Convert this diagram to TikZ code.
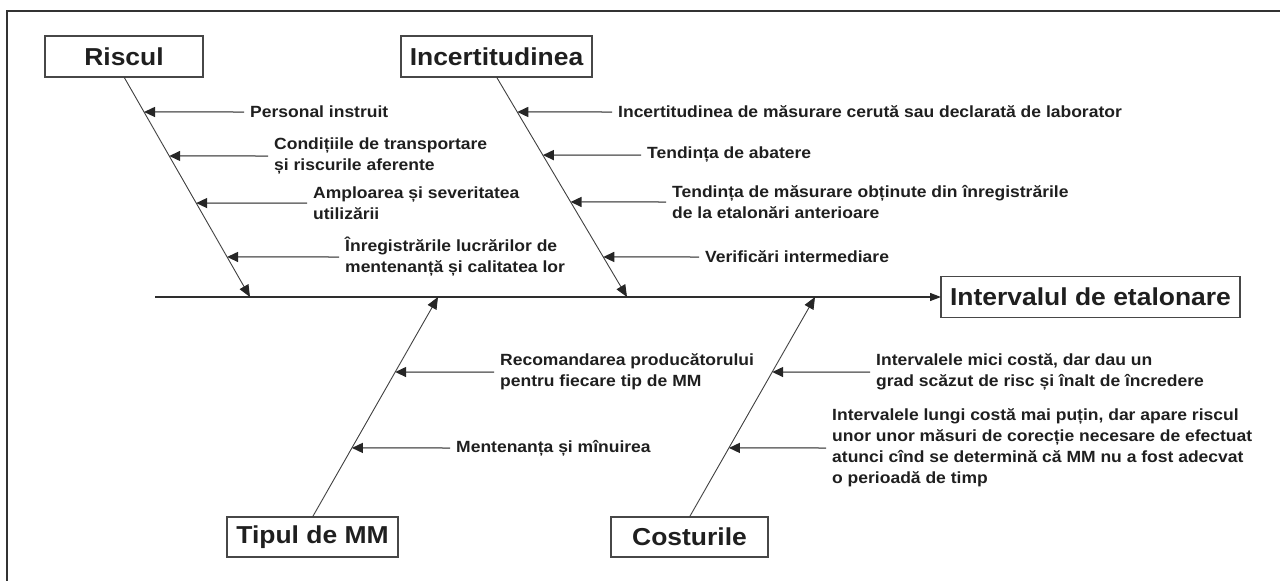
\documentclass[tikz,border=0pt]{standalone}
\usepackage{fontspec}
\setmainfont{Liberation Sans}[FakeStretch=1.08]
\usetikzlibrary{arrows.meta,calc}
\begin{document}
\begin{tikzpicture}[x=1pt,y=-1pt,
  frame/.style={draw=black!80, line width=1.3pt},
  box/.style={draw=black!72, line width=1.1pt, inner sep=0pt, outer sep=0pt,
    font=\fontsize{24.5}{28}\selectfont\bfseries, text=black!88},
  lab/.style={anchor=west, inner xsep=6pt, inner ysep=0pt, align=left,
    font=\fontsize{16.2}{21}\selectfont\bfseries, text=black!88},
  spine/.style={draw=black!82, line width=1.2pt, -{Triangle[length=11pt,width=8pt,color=black!85]}},
  bone/.style={draw=black!75, line width=0.9pt, -{Triangle[length=12pt,width=10pt,color=black!85]}},
  br/.style={draw=black!55, line width=1.5pt, -{Triangle[length=11pt,width=10pt,color=black!85]}}]
\useasboundingbox (0,0) rectangle (1280,581);
% frame
\draw[frame] (7,581) -- (7,11) -- (1280,11);
% boxes
\node[box, minimum width=158pt, minimum height=41pt] (R) at (124,56.5) {Riscul};
\node[box, minimum width=191pt, minimum height=41pt] (I) at (496.5,56.5) {Incertitudinea};
\node[box, minimum width=299pt, minimum height=41pt] (E) at (1090.5,297) {Intervalul de etalonare};
\node[box, minimum width=171pt, minimum height=40pt] (T) at (312.5,537) {Tipul de MM};
\node[box, minimum width=157pt, minimum height=40pt] (C) at (689.5,537) {Costurile};
% spine
\coordinate (S0) at (155,297);
\draw[spine] (S0) -- (E.west);
% bones
\coordinate (Rb) at (250,297);
\coordinate (Ib) at (627,297);
\coordinate (Tb) at (438,297);
\coordinate (Cb) at (815,297);
\draw[bone] (R.south) -- (Rb);
\draw[bone] (I.south) -- (Ib);
\draw[bone] (T.north) -- (Tb);
\draw[bone] (C.north) -- (Cb);
% Riscul causes
\node[lab] (r1) at (244,112) {Personal instruit};
\node[lab] (r2) at (268,156) {Condițiile de transportare\\și riscurile aferente};
\node[lab] (r3) at (307,203) {Amploarea și severitatea\\utilizării};
\node[lab] (r4) at (339,257) {Înregistrările lucrărilor de\\mentenanță și calitatea lor};
\coordinate (r1t) at ($(R.south)!0.159!(Rb)$);
\coordinate (r2t) at ($(R.south)!0.359!(Rb)$);
\coordinate (r3t) at ($(R.south)!0.573!(Rb)$);
\coordinate (r4t) at ($(R.south)!0.818!(Rb)$);
\draw[br] (r1.west) -- (r1t);
\draw[br] (r2.west) -- (r2t);
\draw[br] (r3.west) -- (r3t);
\draw[br] (r4.west) -- (r4t);
% Incertitudinea causes
\node[lab] (i1) at (612,112) {Incertitudinea de măsurare cerută sau declarată de laborator};
\node[lab] (i2) at (641,155) {Tendința de abatere};
\node[lab] (i3) at (666,202) {Tendința de măsurare obținute din înregistrările\\de la etalonări anterioare};
\node[lab] (i4) at (699,257) {Verificări intermediare};
\coordinate (i1t) at ($(I.south)!0.159!(Ib)$);
\coordinate (i2t) at ($(I.south)!0.355!(Ib)$);
\coordinate (i3t) at ($(I.south)!0.568!(Ib)$);
\coordinate (i4t) at ($(I.south)!0.818!(Ib)$);
\draw[br] (i1.west) -- (i1t);
\draw[br] (i2.west) -- (i2t);
\draw[br] (i3.west) -- (i3t);
\draw[br] (i4.west) -- (i4t);
% Tipul de MM causes
\node[lab] (t1) at (494,372) {Recomandarea producătorului\\pentru fiecare tip de MM};
\node[lab] (t2) at (450,448) {Mentenanța și mînuirea};
\coordinate (t1t) at ($(T.north)!0.659!(Tb)$);
\coordinate (t2t) at ($(T.north)!0.314!(Tb)$);
\draw[br] (t1.west) -- (t1t);
\draw[br] (t2.west) -- (t2t);
% Costurile causes
\node[lab] (c1) at (870,372) {Intervalele mici costă, dar dau un\\grad scăzut de risc și înalt de încredere};
\node[lab] (c2) at (826,448) {Intervalele lungi costă mai puțin, dar apare riscul\\unor unor măsuri de corecție necesare de efectuat\\atunci cînd se determină că MM nu a fost adecvat\\o perioadă de timp};
\coordinate (c1t) at ($(C.north)!0.659!(Cb)$);
\coordinate (c2t) at ($(C.north)!0.314!(Cb)$);
\draw[br] (c1.west) -- (c1t);
\draw[br] (c2.west) -- (c2t);
\end{tikzpicture}
\end{document}
